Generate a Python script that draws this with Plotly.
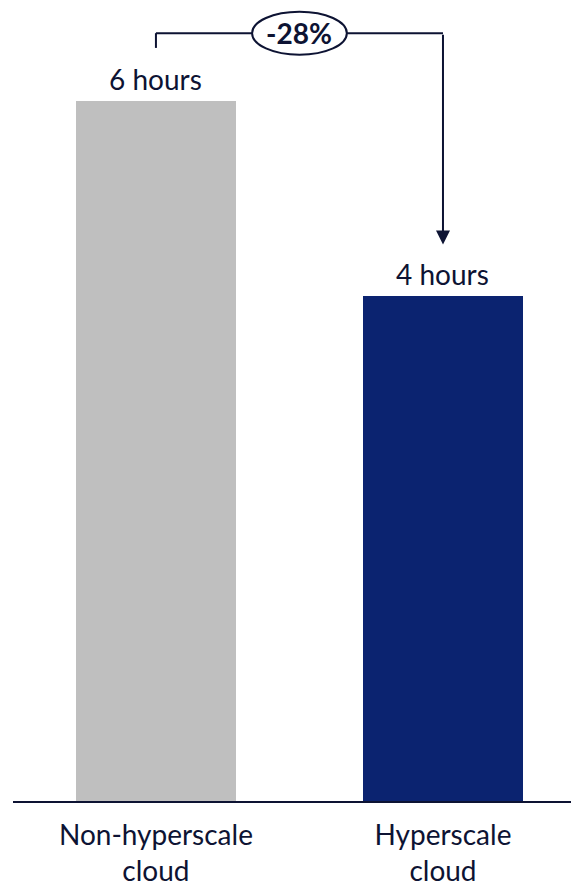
import plotly.graph_objects as go

categories = ["Non-hyperscale<br>cloud", "Hyperscale<br>cloud"]
values = [5.7, 4.11]
value_labels = ["6 hours", "4 hours"]
change_label = "-28%"
bar_colors = ["#BFBFBF", "#0B2370"]

LINE = "#0D1333"
TEXT = "#0D1333"
FONT = "Lato"

xs = [0, 1]
fig = go.Figure()
fig.add_trace(go.Bar(x=xs, y=values, marker=dict(color=bar_colors, line=dict(width=0)),
                     width=0.557, hoverinfo="skip"))

# value labels
for x, v, t in zip(xs, values, value_labels):
    fig.add_annotation(x=x, y=v, text=t, showarrow=False, yanchor="bottom", yshift=3,
                       font=dict(family=FONT, size=28, color=TEXT))

# bracket
ytop = values[0] + 0.55
fig.add_shape(type="line", x0=xs[0], x1=xs[0], y0=values[0] + 0.43, y1=ytop,
              line=dict(color=LINE, width=2), xref="x", yref="y")
fig.add_shape(type="line", x0=xs[0], x1=xs[1], y0=ytop, y1=ytop,
              line=dict(color=LINE, width=2), xref="x", yref="y")
fig.add_annotation(x=xs[1], y=values[1] + 0.42, ax=xs[1], ay=ytop, axref="x", ayref="y",
                   xref="x", yref="y", text="", showarrow=True, arrowhead=2,
                   arrowsize=1.4, arrowwidth=2, arrowcolor=LINE)
# ellipse with change label
xm = (xs[0] + xs[1]) / 2
fig.add_shape(type="circle", x0=xm - 0.165, x1=xm + 0.165, y0=ytop - 0.175, y1=ytop + 0.175,
              line=dict(color=LINE, width=2), fillcolor="white", xref="x", yref="y")
fig.add_annotation(x=xm, y=ytop, text="<b>" + change_label + "</b>", showarrow=False,
                   font=dict(family=FONT, size=28, color=TEXT))

fig.update_layout(
    width=571, height=887,
    margin=dict(l=13, r=0, t=0, b=84),
    plot_bgcolor="white", paper_bgcolor="white",
    showlegend=False,
    xaxis=dict(range=[-0.498, 1.446], tickvals=xs, ticktext=categories, showline=True,
               linecolor=LINE, linewidth=2, showgrid=False, zeroline=False,
               tickfont=dict(family=FONT, size=28, color=TEXT), ticks="",
               ticklabelstandoff=8),
    yaxis=dict(range=[0, 6.52], visible=False, showgrid=False, zeroline=False),
    bargap=0,
)

fig.write_html("out.html")
